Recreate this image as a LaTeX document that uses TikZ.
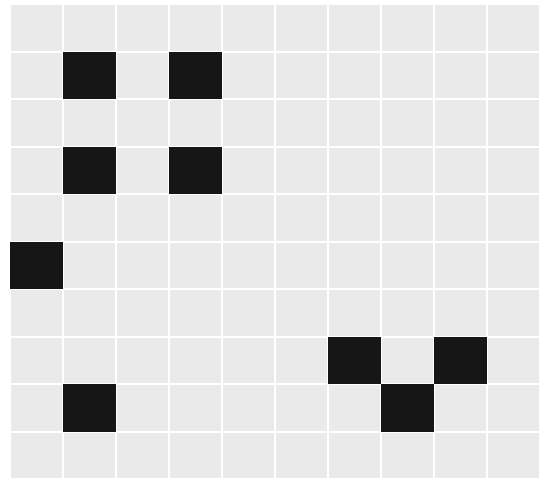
\documentclass[tikz,border=0pt]{standalone}
\definecolor{cellgray}{RGB}{234,234,234}
\definecolor{cellblack}{RGB}{22,22,22}
\tikzset{
  cell/.style={fill=cellgray},
  dark/.style={fill=cellblack}
}
\begin{document}
\begin{tikzpicture}[x=1pt,y=-1pt]
\useasboundingbox[fill=white] (0,0) rectangle (542,479);
\def\cw{53}
\def\ch{47.5}
\foreach \c in {0,...,9}{
  \foreach \r in {0,...,9}{
    \fill[cell] ({10+\c*\cw+1},{4+\r*\ch+1}) rectangle ({10+(\c+1)*\cw-1},{4+(\r+1)*\ch-1});
  }
}
\foreach \c/\r in {1/1,3/1,1/3,3/3,0/5,6/7,8/7,7/8,1/8}{
  \fill[dark] ({10+\c*\cw},{4+\r*\ch}) rectangle ({10+(\c+1)*\cw},{4+(\r+1)*\ch});
}
\end{tikzpicture}
\end{document}
